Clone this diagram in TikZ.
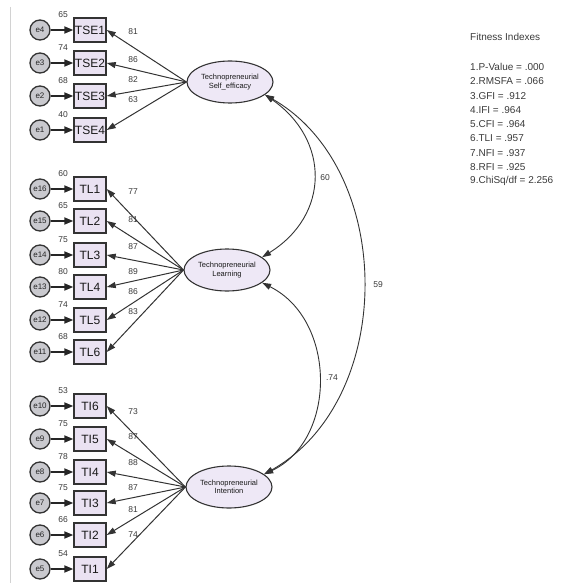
\documentclass[tikz,border=0pt]{standalone}
\usepackage{fontspec}
\setmainfont{Liberation Sans}
\usetikzlibrary{arrows.meta,shapes.geometric}
\definecolor{boxfill}{HTML}{EAE2F2}
\definecolor{ellfill}{HTML}{EEE8F6}
\definecolor{errfill}{HTML}{C9C9CE}
\definecolor{linec}{HTML}{333333}
\definecolor{txt}{HTML}{3A3A3A}
\tikzset{
 obs/.style={draw=linec, line width=1.4pt, fill=boxfill, minimum width=32pt, minimum height=24pt, inner sep=0pt, font=\fontsize{12}{12}\selectfont, text=black!90},
 lat/.style={ellipse, draw=linec, line width=1.1pt, fill=ellfill, minimum width=86pt, minimum height=42pt, inner sep=0pt, align=center, font=\fontsize{7.5}{8.5}\selectfont, text=black!90},
 err/.style={circle, draw=linec, line width=1.3pt, fill=errfill, minimum size=20pt, inner sep=0pt, font=\fontsize{8}{8}\selectfont, text=black!85},
 eArrow/.style={-{Triangle[length=9pt,width=7pt]}, line width=1.8pt, draw=black!85},
 lArrow/.style={-{Triangle[length=9pt,width=6pt]}, line width=1pt, draw=linec},
 cov/.style={{Triangle[length=9pt,width=6pt]}-{Triangle[length=9pt,width=6pt]}, line width=0.9pt, draw=linec},
 num/.style={font=\fontsize{8.5}{8.5}\selectfont, text=txt, inner sep=0pt},
 fitx/.style={font=\fontsize{10}{10}\selectfont, text=txt, anchor=west, inner sep=0pt},
}
\begin{document}
\begin{tikzpicture}[x=1pt,y=-1pt]
\useasboundingbox (0,0) rectangle (578,585);
\draw[gray!35, line width=0.8pt] (10.5,7) -- (10.5,583);
% latent variables
\node[lat] (SE) at (230,82) {Technopreneurial\\Self\_efficacy};
\node[lat] (LE) at (227,270) {Technopreneurial\\Learning};
\node[lat] (IN) at (229,487) {Technopreneurial\\Intention};
% observed variables, errors, loadings
\foreach \n/\y/\e/\ev/\ld/\ly/\lt in {
 TSE1/30/e4/65/81/32/SE, TSE2/63/e3/74/86/60/SE, TSE3/96/e2/68/82/80/SE, TSE4/130/e1/40/63/100/SE,
 TL1/189/e16/60/77/192/LE, TL2/221/e15/65/81/220/LE, TL3/255/e14/75/87/247/LE, TL4/287/e13/80/89/272/LE, TL5/320/e12/74/86/292/LE, TL6/352/e11/68/83/312/LE,
 TI6/406/e10/53/73/412/IN, TI5/439/e9/75/87/437/IN, TI4/472/e8/78/88/463/IN, TI3/503/e7/75/87/488/IN, TI2/535/e6/66/81/510/IN, TI1/569/e5/54/74/535/IN}{
 \node[obs] (\n) at (90,\y) {\n};
 \node[err] (\e) at (40,\y) {\e};
 \draw[eArrow] (\e) -- (\n);
 \draw[lArrow] (\lt.west) -- (\n.east);
 \node[num] (ev\n) at (63,{\y-15}) {\ev};
 \node[num] (ld\n) at (133,\ly) {\ld};
}
% covariances
\draw[cov] (SE.-20) .. controls (330,140) and (330,215) .. (LE.20);
\draw[cov] (SE.-20) .. controls (396,170) and (396,400) .. (IN.20);
\draw[cov] (LE.-20) .. controls (337,320) and (337,440) .. (IN.20);
\node[num] (c60) at (325,178) {60};
\node[num] (c59) at (378,285) {59};
\node[num] (c74) at (332,378) {.74};
% fitness indexes
\node[fitx] (fh) at (470,37) {Fitness Indexes};
\node[fitx] (f1) at (470,67) {1.P-Value = .000};
\node[fitx] (f2) at (470,81.3) {2.RMSFA = .066};
\node[fitx] (f3) at (470,95.6) {3.GFI = .912};
\node[fitx] (f4) at (470,109.9) {4.IFI = .964};
\node[fitx] (f5) at (470,124.2) {5.CFI = .964};
\node[fitx] (f6) at (470,138.5) {6.TLI = .957};
\node[fitx] (f7) at (470,152.8) {7.NFI = .937};
\node[fitx] (f8) at (470,167.1) {8.RFI = .925};
\node[fitx] (f9) at (470,181.4) {9.ChiSq/df = 2.256};
\end{tikzpicture}
\end{document}
